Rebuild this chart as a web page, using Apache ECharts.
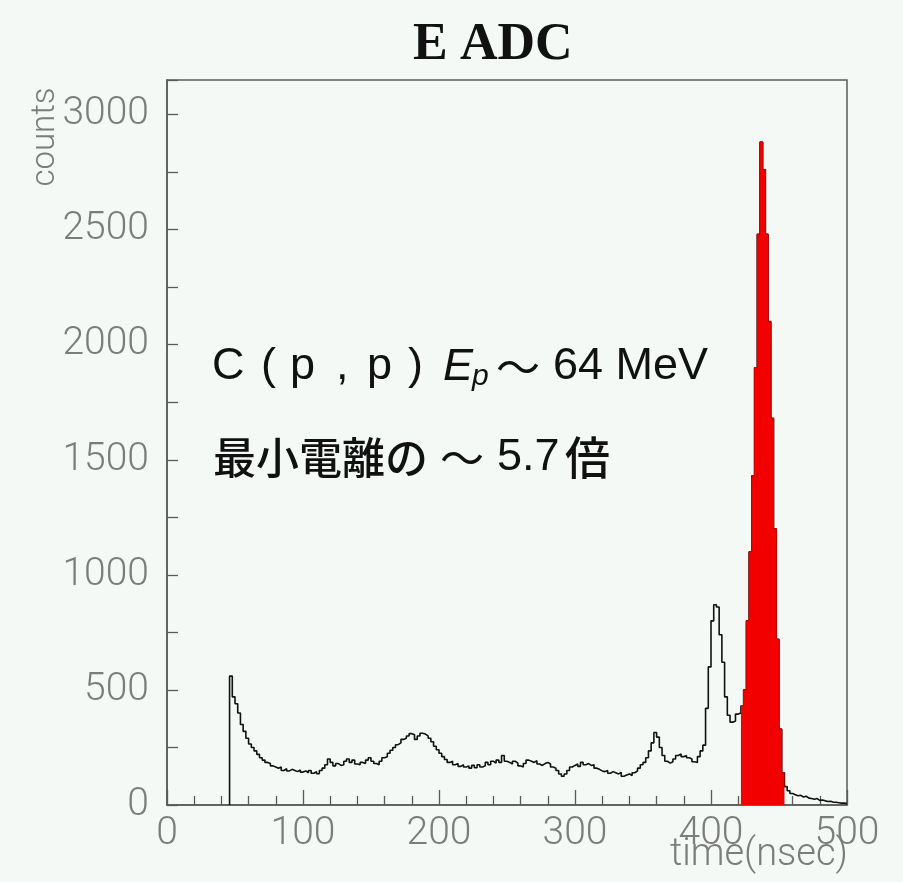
<!DOCTYPE html>
<html>
<head>
<meta charset="utf-8">
<script src="https://cdn.jsdelivr.net/npm/echarts@6/dist/echarts.min.js"></script>
<style>
  html, body { margin: 0; padding: 0; background: #f4f9f5; }
  #chart { width: 903px; height: 882px; }
</style>
</head>
<body>
<div id="chart"></div>
<script>
// E ADC time spectrum, 2 ns bins starting at 46 ns
const binStart = 46;
const binWidth = 2;
const counts = [
  560, 470, 440, 400, 350, 320, 290, 265, 250, 235,   // 46-64
  220, 205, 195, 185, 180, 170, 165, 160, 165, 150,   // 66-84
  158, 148, 155, 150, 145, 152, 143, 148, 140, 150,   // 86-104
  138, 145, 136, 150, 160, 175, 200, 185, 170, 180,   // 106-124
  172, 175, 190, 200, 185, 195, 178, 175, 185, 180,   // 126-144
  195, 205, 190, 180, 175, 190, 205, 210, 225, 238,   // 146-164
  250, 262, 270, 285, 290, 300, 310, 305, 285, 300,   // 166-184
  312, 308, 300, 290, 275, 255, 240, 225, 210, 198,   // 186-204
  185, 190, 175, 180, 168, 175, 165, 170, 160, 172,   // 206-224
  162, 175, 165, 170, 185, 175, 190, 182, 195, 185,   // 226-244
  215, 190, 185, 178, 190, 182, 170, 165, 180, 195,   // 246-264
  190, 185, 192, 178, 172, 180, 185, 178, 165, 160,   // 266-284
  150, 135, 125, 135, 150, 165, 172, 178, 168, 185,   // 286-304
  175, 180, 172, 175, 160, 155, 148, 145, 150, 138,   // 306-324
  145, 140, 135, 142, 125, 130, 135, 128, 140, 148,   // 326-344
  160, 175, 185, 205, 235, 270, 315, 295, 250, 215,   // 346-364
  190, 182, 188, 200, 215, 222, 210, 215, 205, 200,   // 366-384
  188, 185, 210, 235, 260, 420, 600, 800, 870, 860,   // 386-404
  740, 620, 470, 390, 360, 365, 395, 400, 430, 500,   // 406-424
  800, 1100, 1430, 1900, 2480, 2880, 2760, 2480, 2100, 1680, // 426-444
  1200, 720, 330, 140, 80, 62, 50, 45, 40, 42,        // 446-464
  35, 38, 30, 28, 25, 28, 20, 22, 18, 15,             // 466-484
  16, 12, 12, 10, 8, 8, 6                             // 486-498
];

// gated (filled) window, ns
const gateFrom = 422;
const gateTo = 454;

// axis ranges and labelled ticks
const xRange = [0, 500];
const yRange = [0, 3150];
const xLabelStep = 100;
const yLabelStep = 500;

// histogram outline: bin left edges, closed at the last bin edge
const edges = counts.map((c, i) => binStart + i * binWidth);
const lastEdge = binStart + counts.length * binWidth;
const histPoints = [[binStart, 0]]
  .concat(counts.map((c, i) => [edges[i], c]))
  .concat([[lastEdge, counts[counts.length - 1]]]);

const gatePoints = [];
counts.forEach((c, i) => {
  if (edges[i] >= gateFrom && edges[i] < gateTo) gatePoints.push([edges[i], c]);
});
gatePoints.push([gateTo, gatePoints[gatePoints.length - 1][1]]);

const labelFont = { color: '#7c7c7c', fontSize: 39, fontFamily: 'Roboto', fontWeight: 300 };
const axisGray = '#5a5a5a';
const sansFont = '45px "Liberation Sans"';
const cjkFont = '500 45px "Noto Sans CJK JP"';

const chart = echarts.init(document.getElementById('chart'), null, { renderer: 'canvas' });
chart.setOption({
  backgroundColor: '#f4f9f5',
  animation: false,
  grid: {
    left: 167, right: 56, top: 80, bottom: 77,
    show: true, borderColor: axisGray, borderWidth: 1.5, backgroundColor: 'transparent'
  },
  xAxis: {
    type: 'value', min: xRange[0], max: xRange[1], interval: xLabelStep,
    axisLine: { lineStyle: { color: axisGray, width: 1.5 } },
    axisTick: { inside: true, length: 15, lineStyle: { color: axisGray, width: 1.3 } },
    minorTick: { show: true, splitNumber: 5, length: 9, lineStyle: { color: axisGray, width: 1.3 } },
    splitLine: { show: false },
    axisLabel: Object.assign({ margin: 10 }, labelFont)
  },
  yAxis: {
    type: 'value', min: yRange[0], max: yRange[1], interval: yLabelStep / 2,
    axisLine: { lineStyle: { color: axisGray, width: 1.5 } },
    axisTick: { inside: true, length: 11, lineStyle: { color: axisGray, width: 1.3 } },
    splitLine: { show: false },
    axisLabel: Object.assign({
      margin: 18,
      formatter: v => (v % yLabelStep === 0 ? String(v) : '')
    }, labelFont)
  },
  series: [
    {
      type: 'line', step: 'end', data: histPoints, symbol: 'none',
      lineStyle: { color: '#111', width: 1.6 }, z: 2
    },
    {
      type: 'line', step: 'end', data: gatePoints, symbol: 'none',
      lineStyle: { color: '#e80000', width: 1 },
      areaStyle: { color: '#f20000', opacity: 1 }, z: 3
    }
  ],
  graphic: [
    { type: 'text', x: 413, y: 46, style: { text: 'E', fill: '#111',
      font: 'bold 52px "Liberation Serif", serif', verticalAlign: 'middle' } },
    { type: 'text', x: 460, y: 46, style: { text: 'ADC', fill: '#111',
      font: 'bold 52px "Liberation Serif", serif', verticalAlign: 'middle' } },
    { type: 'text', x: 46, y: 137, rotation: Math.PI / 2, style: { text: 'counts', fill: '#7c7c7c',
      font: '300 33px Roboto', align: 'center', verticalAlign: 'middle' } },
    { type: 'text', x: 848, y: 855, style: { text: 'time(nsec)', fill: '#7c7c7c',
      font: '300 38px Roboto', align: 'right', verticalAlign: 'middle' } },

    // reaction label
    { type: 'text', x: 212, y: 367, style: { text: 'C', fill: '#111', font: sansFont, verticalAlign: 'middle' } },
    { type: 'text', x: 261, y: 367, style: { text: '(', fill: '#111', font: sansFont, verticalAlign: 'middle' } },
    { type: 'text', x: 290, y: 367, style: { text: 'p', fill: '#111', font: sansFont, verticalAlign: 'middle' } },
    { type: 'text', x: 336, y: 367, style: { text: ',', fill: '#111', font: sansFont, verticalAlign: 'middle' } },
    { type: 'text', x: 367, y: 367, style: { text: 'p', fill: '#111', font: sansFont, verticalAlign: 'middle' } },
    { type: 'text', x: 408, y: 367, style: { text: ')', fill: '#111', font: sansFont, verticalAlign: 'middle' } },
    { type: 'text', x: 443, y: 367, style: { text: 'E', fill: '#111', font: 'italic ' + sansFont, verticalAlign: 'middle' } },
    { type: 'text', x: 472, y: 377, style: { text: 'p', fill: '#111', font: 'italic 30px "Liberation Sans"', verticalAlign: 'middle' } },
    { type: 'text', x: 496, y: 367, style: { text: '～', fill: '#111', font: '44px "Noto Sans CJK JP"', verticalAlign: 'middle' } },
    { type: 'text', x: 553, y: 367, style: { text: '64 MeV', fill: '#111', font: sansFont, verticalAlign: 'middle' } },

    // ionisation ratio
    { type: 'text', x: 213, y: 458, style: { text: '最小電離の', fill: '#111', font: '500 43px "Noto Sans CJK JP"', verticalAlign: 'middle' } },
    { type: 'text', x: 440, y: 458, style: { text: '～', fill: '#111', font: '44px "Noto Sans CJK JP"', verticalAlign: 'middle' } },
    { type: 'text', x: 497, y: 458, style: { text: '5.7', fill: '#111', font: sansFont, verticalAlign: 'middle' } },
    { type: 'text', x: 565, y: 458, style: { text: '倍', fill: '#111', font: cjkFont, verticalAlign: 'middle' } }
  ]
});
</script>
</body>
</html>
